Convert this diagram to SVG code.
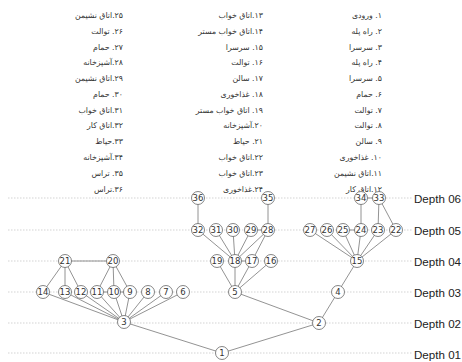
<svg xmlns="http://www.w3.org/2000/svg" width="462" height="362" viewBox="0 0 462 362">
<style>
.bg{fill:#fff}
.lvl{stroke:#c8c8c8;stroke-width:0.8;stroke-dasharray:1.5 1.5;fill:none}
.dl{font-family:"Liberation Sans",Arial,sans-serif;font-size:11.6px;fill:#222;dominant-baseline:central}
.fa{font-family:"DejaVu Sans",sans-serif;font-size:7.8px;fill:#333;text-anchor:end}
.e{stroke:#777;stroke-width:0.8;fill:none}
.n circle{fill:#fff;stroke:#666;stroke-width:0.8}
.n text{font-family:"DejaVu Sans",sans-serif;font-size:8.5px;fill:#333;text-anchor:middle;dominant-baseline:central}
</style>
<rect class="bg" x="0" y="0" width="462" height="362"/>
<g id="legend">
<text class="fa" x="382" y="18">&#x202B;۱. ورودی&#x202C;</text>
<text class="fa" x="382" y="34">&#x202B;۲. راه پله&#x202C;</text>
<text class="fa" x="382" y="50">&#x202B;۳. سرسرا&#x202C;</text>
<text class="fa" x="382" y="65">&#x202B;۴. راه پله&#x202C;</text>
<text class="fa" x="382" y="81">&#x202B;۵. سرسرا&#x202C;</text>
<text class="fa" x="382" y="97">&#x202B;۶. حمام&#x202C;</text>
<text class="fa" x="382" y="113">&#x202B;۷. توالت&#x202C;</text>
<text class="fa" x="382" y="128">&#x202B;۸. توالت&#x202C;</text>
<text class="fa" x="382" y="144">&#x202B;۹. سالن&#x202C;</text>
<text class="fa" x="382" y="160">&#x202B;۱۰. غذاخوری&#x202C;</text>
<text class="fa" x="382" y="176">&#x202B;۱۱.اتاق نشیمن&#x202C;</text>
<text class="fa" x="382" y="192">&#x202B;۱۲.اتاق کار&#x202C;</text>
<text class="fa" x="263" y="18">&#x202B;۱۳.اتاق خواب&#x202C;</text>
<text class="fa" x="263" y="34">&#x202B;۱۴.اتاق خواب مستر&#x202C;</text>
<text class="fa" x="263" y="50">&#x202B;۱۵. سرسرا&#x202C;</text>
<text class="fa" x="263" y="65">&#x202B;۱۶. توالت&#x202C;</text>
<text class="fa" x="263" y="81">&#x202B;۱۷. سالن&#x202C;</text>
<text class="fa" x="263" y="97">&#x202B;۱۸. غذاخوری&#x202C;</text>
<text class="fa" x="263" y="113">&#x202B;۱۹. اتاق خواب مستر&#x202C;</text>
<text class="fa" x="263" y="128">&#x202B;۲۰.آشپزخانه&#x202C;</text>
<text class="fa" x="263" y="144">&#x202B;۲۱. حیاط&#x202C;</text>
<text class="fa" x="263" y="160">&#x202B;۲۲.اتاق خواب&#x202C;</text>
<text class="fa" x="263" y="176">&#x202B;۲۳.اتاق خواب&#x202C;</text>
<text class="fa" x="263" y="192">&#x202B;۲۴.غذاخوری&#x202C;</text>
<text class="fa" x="123" y="18">&#x202B;۲۵.اتاق نشیمن&#x202C;</text>
<text class="fa" x="123" y="34">&#x202B;۲۶. توالت&#x202C;</text>
<text class="fa" x="123" y="50">&#x202B;۲۷. حمام&#x202C;</text>
<text class="fa" x="123" y="65">&#x202B;۲۸.آشپزخانه&#x202C;</text>
<text class="fa" x="123" y="81">&#x202B;۲۹.اتاق نشیمن&#x202C;</text>
<text class="fa" x="123" y="97">&#x202B;۳۰. حمام&#x202C;</text>
<text class="fa" x="123" y="113">&#x202B;۳۱.اتاق خواب&#x202C;</text>
<text class="fa" x="123" y="128">&#x202B;۳۲.اتاق کار&#x202C;</text>
<text class="fa" x="123" y="144">&#x202B;۳۳.حیاط&#x202C;</text>
<text class="fa" x="123" y="160">&#x202B;۳۴.آشپزخانه&#x202C;</text>
<text class="fa" x="123" y="176">&#x202B;۳۵. تراس&#x202C;</text>
<text class="fa" x="123" y="192">&#x202B;۳۶.تراس&#x202C;</text>
</g>
<g id="levels">
<line class="lvl" x1="8" y1="198" x2="412" y2="198"/>
<line class="lvl" x1="8" y1="230" x2="412" y2="230"/>
<line class="lvl" x1="8" y1="261" x2="412" y2="261"/>
<line class="lvl" x1="8" y1="292" x2="412" y2="292"/>
<line class="lvl" x1="8" y1="323" x2="412" y2="323"/>
<line class="lvl" x1="8" y1="353" x2="412" y2="353"/>
<text class="dl" x="414" y="198">Depth 06</text>
<text class="dl" x="414" y="230">Depth 05</text>
<text class="dl" x="414" y="261">Depth 04</text>
<text class="dl" x="414" y="292">Depth 03</text>
<text class="dl" x="414" y="323">Depth 02</text>
<text class="dl" x="414" y="354">Depth 01</text>
</g>
<g id="connectors">
<path class="e" d="M222 353L124 322M222 353L319 323M319 323L235 292M319 323L338 292M338 292L357 261
M124 322L43 292M124 322L65 292M124 322L81 292M124 322L97 292M124 322L114 292M124 322L130 292M124 322L148 292M124 322L166 292M124 322L183 292
M65 261L43 292M65 261L65 292M65 261L81 292M65 261L113 261
M113 261L97 292M113 261L114 292M113 261L130 292M97 292L130 292
M235 292L217 261M235 292L235 261M235 292L252 261M235 292L271 261M235 261L252 261
M235 261L198 230M235 261L216 230M235 261L233 230M235 261L251 230M235 261L268 230M252 261L268 230M251 230L268 230M268 230L268 198M198 230L198 198
M357 261L310 230M357 261L327 230M357 261L343 230M357 261L361 230M357 261L378 230M357 261L396 230M343 230L361 230M361 230L361 198M378 230L379 198M396 230L379 198M361 198L379 198"/>
</g>
<g id="node-1" class="n"><circle cx="222" cy="353" r="6.5"/><text x="222" y="353">1</text></g>
<g id="node-2" class="n"><circle cx="319" cy="323" r="6.5"/><text x="319" y="323">2</text></g>
<g id="node-3" class="n"><circle cx="124" cy="322" r="6.5"/><text x="124" y="322">3</text></g>
<g id="node-4" class="n"><circle cx="338" cy="292" r="6.5"/><text x="338" y="292">4</text></g>
<g id="node-5" class="n"><circle cx="235" cy="292" r="6.5"/><text x="235" y="292">5</text></g>
<g id="node-6" class="n"><circle cx="183" cy="292" r="6.5"/><text x="183" y="292">6</text></g>
<g id="node-7" class="n"><circle cx="166" cy="292" r="6.5"/><text x="166" y="292">7</text></g>
<g id="node-8" class="n"><circle cx="148" cy="292" r="6.5"/><text x="148" y="292">8</text></g>
<g id="node-9" class="n"><circle cx="130" cy="292" r="6.5"/><text x="130" y="292">9</text></g>
<g id="node-10" class="n"><circle cx="114" cy="292" r="6.5"/><text x="114" y="292">10</text></g>
<g id="node-11" class="n"><circle cx="97" cy="292" r="6.5"/><text x="97" y="292">11</text></g>
<g id="node-12" class="n"><circle cx="81" cy="292" r="6.5"/><text x="81" y="292">12</text></g>
<g id="node-13" class="n"><circle cx="65" cy="292" r="6.5"/><text x="65" y="292">13</text></g>
<g id="node-14" class="n"><circle cx="43" cy="292" r="6.5"/><text x="43" y="292">14</text></g>
<g id="node-15" class="n"><circle cx="357" cy="261" r="6.5"/><text x="357" y="261">15</text></g>
<g id="node-16" class="n"><circle cx="271" cy="261" r="6.5"/><text x="271" y="261">16</text></g>
<g id="node-17" class="n"><circle cx="252" cy="261" r="6.5"/><text x="252" y="261">17</text></g>
<g id="node-18" class="n"><circle cx="235" cy="261" r="6.5"/><text x="235" y="261">18</text></g>
<g id="node-19" class="n"><circle cx="217" cy="261" r="6.5"/><text x="217" y="261">19</text></g>
<g id="node-20" class="n"><circle cx="113" cy="261" r="6.5"/><text x="113" y="261">20</text></g>
<g id="node-21" class="n"><circle cx="65" cy="261" r="6.5"/><text x="65" y="261">21</text></g>
<g id="node-22" class="n"><circle cx="396" cy="230" r="6.5"/><text x="396" y="230">22</text></g>
<g id="node-23" class="n"><circle cx="378" cy="230" r="6.5"/><text x="378" y="230">23</text></g>
<g id="node-24" class="n"><circle cx="361" cy="230" r="6.5"/><text x="361" y="230">24</text></g>
<g id="node-25" class="n"><circle cx="343" cy="230" r="6.5"/><text x="343" y="230">25</text></g>
<g id="node-26" class="n"><circle cx="327" cy="230" r="6.5"/><text x="327" y="230">26</text></g>
<g id="node-27" class="n"><circle cx="310" cy="230" r="6.5"/><text x="310" y="230">27</text></g>
<g id="node-28" class="n"><circle cx="268" cy="230" r="6.5"/><text x="268" y="230">28</text></g>
<g id="node-29" class="n"><circle cx="251" cy="230" r="6.5"/><text x="251" y="230">29</text></g>
<g id="node-30" class="n"><circle cx="233" cy="230" r="6.5"/><text x="233" y="230">30</text></g>
<g id="node-31" class="n"><circle cx="216" cy="230" r="6.5"/><text x="216" y="230">31</text></g>
<g id="node-32" class="n"><circle cx="198" cy="230" r="6.5"/><text x="198" y="230">32</text></g>
<g id="node-33" class="n"><circle cx="379" cy="198" r="6.5"/><text x="379" y="198">33</text></g>
<g id="node-34" class="n"><circle cx="361" cy="198" r="6.5"/><text x="361" y="198">34</text></g>
<g id="node-35" class="n"><circle cx="268" cy="198" r="6.5"/><text x="268" y="198">35</text></g>
<g id="node-36" class="n"><circle cx="198" cy="198" r="6.5"/><text x="198" y="198">36</text></g>
</svg>
